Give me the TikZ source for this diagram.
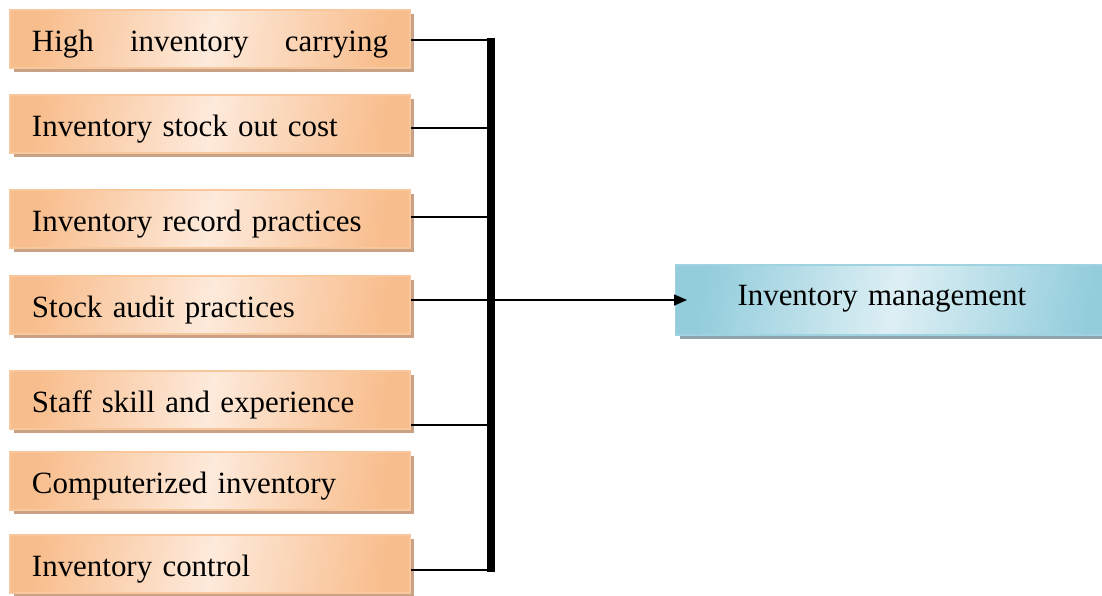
\documentclass[tikz,border=0pt]{standalone}
\usepackage{fontspec}
\setmainfont{Liberation Serif}
\usetikzlibrary{arrows.meta,shadows,calc}

\definecolor{peach}{HTML}{F8BD8C}
\definecolor{peachlight}{HTML}{FDEADB}
\definecolor{peachedge}{HTML}{F9C79C}
\definecolor{peachshadow}{HTML}{C9A286}
\definecolor{aqua}{HTML}{93CDDC}
\definecolor{aqualight}{HTML}{DDEFF4}
\definecolor{aquaedge}{HTML}{9FD3E0}
\definecolor{aquashadow}{HTML}{8FA4AB}

\tikzset{
  factor/.style={draw=peachedge,line width=0.6pt,
    left color=peach,right color=peach,middle color=peachlight,shading angle=80,
    general shadow={shadow xshift=0.8mm,shadow yshift=-0.8mm,fill=peachshadow},
    minimum width=80mm,minimum height=11.6mm,inner xsep=4.4mm,
    text width=71.2mm,align=left,text height=14.2pt,text depth=0pt},
  outcome/.style={draw=aquaedge,line width=0.6pt,
    left color=aqua,right color=aqua,middle color=aqualight,shading angle=80,
    general shadow={shadow xshift=0.8mm,shadow yshift=-0.8mm,fill=aquashadow},
    minimum width=88mm,minimum height=14mm,inner xsep=12.4mm,
    text width=63.2mm,align=left,text height=9.7pt,text depth=4pt},
  link/.style={line width=0.9pt},
}

\begin{document}
\begin{tikzpicture}[x=0.2mm,y=-0.2mm,font=\fontsize{17.6}{21}\selectfont,
    >={Triangle[length=2.6mm,width=2.2mm]}]
  \clip (0,0) rectangle (1102,595);
  % factor boxes on the left
  \node[factor] (f1) at (210,39)  {High\hfill inventory\hfill carrying};
  \node[factor] (f2) at (210,124) {Inventory stock out cost};
  \node[factor] (f3) at (210,219) {Inventory record practices};
  \node[factor] (f4) at (210,305) {Stock audit practices};
  \node[factor] (f5) at (210,400) {Staff skill and experience};
  \node[factor] (f6) at (210,481) {Computerized inventory};
  \node[factor] (f7) at (210,564) {Inventory control};
  % result box, runs off the right edge
  \node[outcome,anchor=west] (im) at (675,300) {Inventory management};
  % joints on the bar
  \coordinate (b1) at (491,40);
  \coordinate (b2) at (491,128);
  \coordinate (b3) at (491,217);
  \coordinate (b4) at (491,300);
  \coordinate (b5) at (491,425);
  \coordinate (b7) at (491,570);
  \foreach \i in {1,2,3,4,5,7}
    \draw[link] (f\i.east |- b\i) -- (b\i);
  \draw[line width=1.6mm] ($(b1)+(0,-2)$) -- ($(b7)+(0,2)$);
  \draw[link,->] (b4) -- ($(im.west)+(12,0)$);
\end{tikzpicture}
\end{document}
